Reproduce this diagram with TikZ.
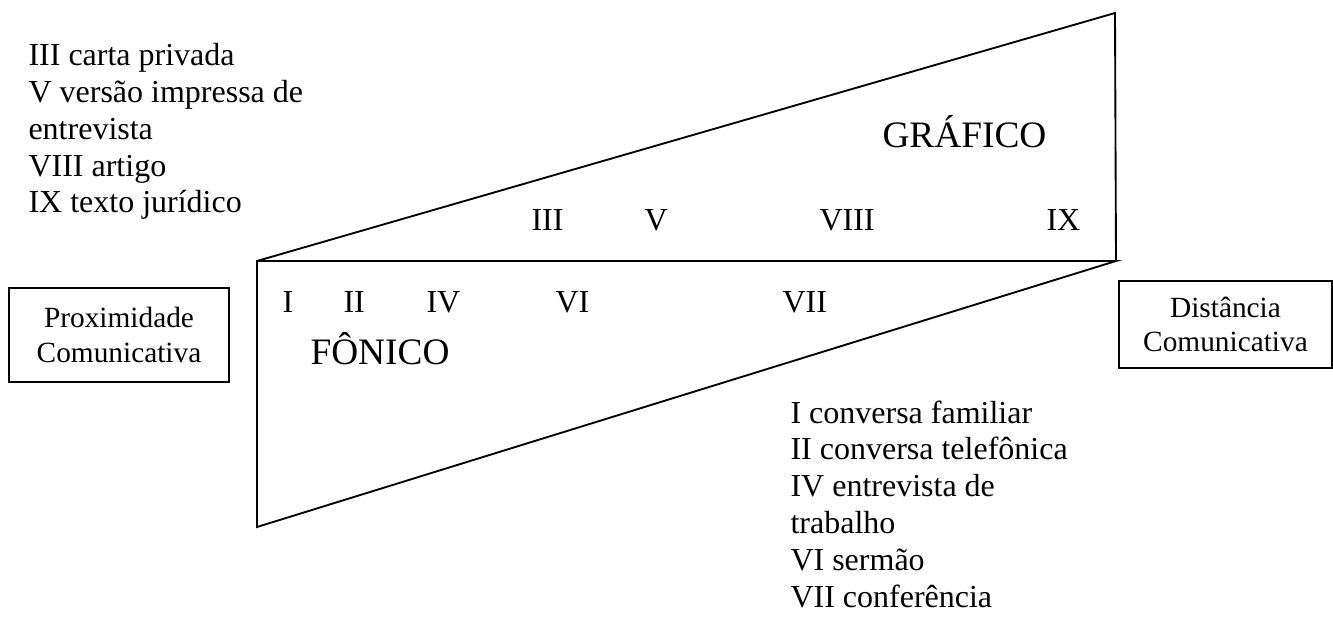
\documentclass[tikz,border=0pt]{standalone}
\usepackage{fontspec}
\setmainfont{Liberation Serif}
\usetikzlibrary{positioning}

\begin{document}
\begin{tikzpicture}[
    x=0.375pt, y=-0.375pt,
]

% ---------------------------------------------------------------- styles
\tikzset{
    edge/.style={line width=0.7pt, line join=miter},
    pole/.style={draw, line width=0.6pt, inner sep=0pt, align=center,
                 font=\fontsize{11}{12.9}\selectfont},
    numeral/.style={anchor=base west, inner sep=0pt,
                    font=\fontsize{12}{13.8}\selectfont},
    medium/.style={anchor=base west, inner sep=0pt,
                   font=\fontsize{14}{16}\selectfont},
    legend/.style={anchor=north west, inner sep=0pt, align=left,
                   font=\fontsize{12}{13.8}\selectfont},
}

% the page, in pixel units (1333 x 617)
\useasboundingbox (0, 0) rectangle (1333, 617);

% ================================================================
% Two wedges sharing the horizontal line at y = 261:
% the graphic one opens upwards to the right, the phonic one
% opens downwards to the left.
% ================================================================
\coordinate (apex)  at (257, 261);
\coordinate (gtop)  at (1115, 13);
\coordinate (tip)   at (1116, 261);
\coordinate (fbot)  at (257, 527);

\draw[edge] (tip) -- (gtop) -- (apex) -- (fbot) -- (tip) -- (apex);

% ---------------------------------------------------------------- poles
\node[pole, minimum width=82.5pt, minimum height=35.25pt] (prox)
    at (119, 335) {Proximidade\\Comunicativa};
\node[pole, minimum width=79.9pt, minimum height=32.6pt] (dist)
    at (1225.5, 324.5) {Distância\\Comunicativa};

% ---------------------------------------------------------------- media
\node[medium] (grafico) at (882, 148) {GRÁFICO};
\node[medium] (fonico)  at (310, 364) {FÔNICO};

% ---------------------------------------------------------------- genres
% written ones, above the shared line
\node[numeral] (g3) at (531, 231)  {III};
\node[numeral] (g5) at (644, 231)  {V};
\node[numeral] (g8) at (819, 231)  {VIII};
\node[numeral] (g9) at (1046, 231) {IX};

% spoken ones, below it
\node[numeral] (f1) at (282, 313) {I};
\node[numeral] (f2) at (343, 313) {II};
\node[numeral] (f4) at (426, 313) {IV};
\node[numeral] (f6) at (555, 313) {VI};
\node[numeral] (f7) at (782, 313) {VII};

% ---------------------------------------------------------------- keys
\node[legend] (keyg) at (28, 43)
    {III carta privada\\V versão impressa de\\entrevista\\VIII artigo\\IX texto jurídico};
\node[legend] (keyf) at (790, 400)
    {I conversa familiar\\II conversa telefônica\\IV entrevista de\\trabalho\\VI sermão\\VII conferência};

\end{tikzpicture}
\end{document}
